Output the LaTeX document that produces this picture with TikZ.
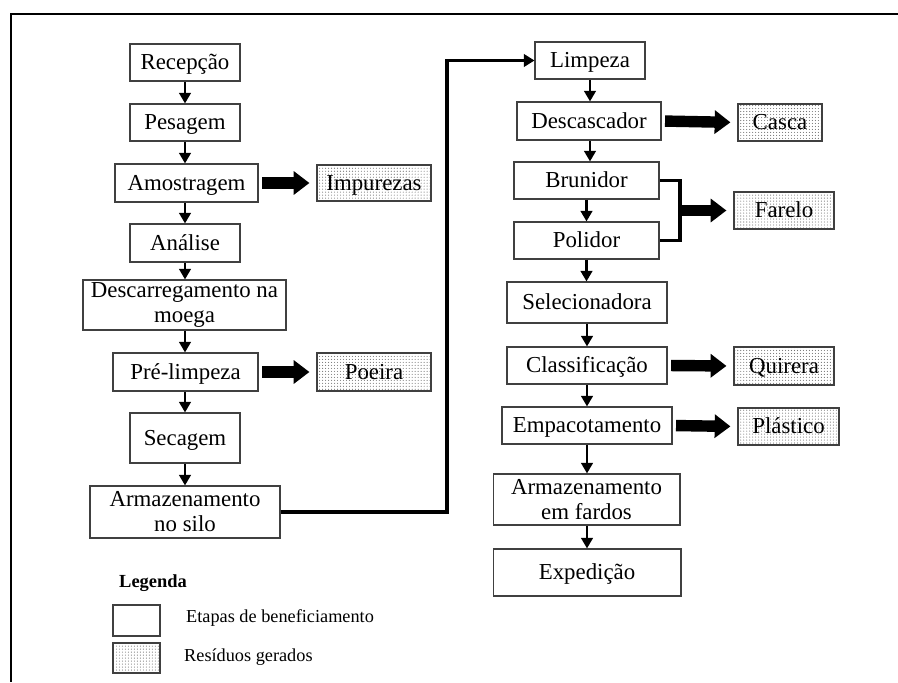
\documentclass[tikz,border=0pt]{standalone}
\usepackage{fontspec}
\setmainfont{Liberation Serif}
\usetikzlibrary{arrows.meta,patterns.meta}

\begin{document}
\begin{tikzpicture}[x=0.02cm, y=-0.02cm,
    etapa/.style={draw=black!75, line width=0.6pt, fill=white, inner sep=1pt, align=center, text height=10.5pt, text depth=2pt, font=\fontsize{13}{14.2}\selectfont},
    etapadupla/.style={etapa, text height=, text depth=},
    residuo/.style={draw=black!75, line width=0.6pt, pattern={Dots[distance=1.7pt, radius=0.32pt]}, pattern color=black!55, inner sep=1pt, text height=10.5pt, text depth=2pt, font=\fontsize{13}{14.2}\selectfont},
    seta/.style={line width=1.5pt, -{Triangle[width=6.5pt, length=6pt]}},
    setagrossa/.style={line width=6.5pt, -{Triangle[width=13pt, length=9pt]}, shorten <=2pt, shorten >=4pt},
    ligacao/.style={line width=1.8pt},
]
    \useasboundingbox (0, 0) rectangle (898, 682);
    \draw[line width=1.2pt] (898, 14) -- (11, 14) -- (11, 682);

    % coluna da esquerda
    \node[etapa, minimum width=2.2cm, minimum height=0.74cm] (rec) at (185, 62.5) {Recepção};
    \node[etapa, minimum width=2.2cm, minimum height=0.74cm] (pes) at (185, 122.5) {Pesagem};
    \node[etapa, minimum width=2.86cm, minimum height=0.76cm] (amo) at (186.5, 183) {Amostragem};
    \node[residuo, minimum width=2.28cm, minimum height=0.72cm] (imp) at (374, 183) {Impurezas};
    \node[etapa, minimum width=2.2cm, minimum height=0.76cm] (ana) at (185, 243) {Análise};
    \node[etapadupla, minimum width=4.06cm, minimum height=1.0cm] (dsc) at (184.5, 305) {Descarregamento na\\moega};
    \node[etapa, minimum width=2.9cm, minimum height=0.76cm] (pre) at (185.5, 372) {Pré-limpeza};
    \node[residuo, minimum width=2.28cm, minimum height=0.76cm] (poe) at (374, 372) {Poeira};
    \node[etapa, minimum width=2.2cm, minimum height=1.0cm] (sec) at (185, 438) {Secagem};
    \node[etapadupla, minimum width=3.8cm, minimum height=1.04cm] (silo) at (185, 512) {Armazenamento\\no silo};

    % coluna da direita
    \node[etapa, minimum width=2.2cm, minimum height=0.74cm] (lim) at (590, 60.5) {Limpeza};
    \node[etapa, minimum width=2.88cm, minimum height=0.76cm] (dca) at (589, 121) {Descascador};
    \node[residuo, minimum width=1.68cm, minimum height=0.74cm] (cas) at (780, 122.5) {Casca};
    \node[etapa, minimum width=2.9cm, minimum height=0.74cm] (bru) at (586.5, 180.5) {Brunidor};
    \node[etapa, minimum width=2.9cm, minimum height=0.74cm] (pol) at (586.5, 240.5) {Polidor};
    \node[residuo, minimum width=2.0cm, minimum height=0.74cm] (far) at (784, 210.5) {Farelo};
    \node[etapa, minimum width=3.2cm, minimum height=0.82cm] (sel) at (587, 302.5) {Selecionadora};
    \node[etapa, minimum width=3.2cm, minimum height=0.74cm] (cla) at (587, 365.5) {Classificação};
    \node[residuo, minimum width=2.0cm, minimum height=0.76cm] (qui) at (784, 366) {Quirera};
    \node[etapa, minimum width=3.4cm, minimum height=0.74cm] (emp) at (587, 425.5) {Empacotamento};
    \node[residuo, minimum width=2.02cm, minimum height=0.74cm] (pla) at (788.5, 426.5) {Plástico};
    \node[etapadupla, minimum width=3.74cm, minimum height=1.02cm] (fard) at (586.5, 499.5) {Armazenamento\\em fardos};
    \node[etapa, minimum width=3.76cm, minimum height=0.94cm] (exp) at (587, 572.5) {Expedição};

    % setas entre etapas
    \draw[seta] (rec.south) -- (rec.south |- pes.north);
    \draw[seta] (pes.south) -- (pes.south |- amo.north);
    \draw[seta] (pes.south |- amo.south) -- (pes.south |- ana.north);
    \draw[seta] (ana.south) -- (ana.south |- dsc.north);
    \draw[seta] (ana.south |- dsc.south) -- (ana.south |- pre.north);
    \draw[seta] (ana.south |- pre.south) -- (ana.south |- sec.north);
    \draw[seta] (sec.south) -- (sec.south |- silo.north);

    \draw[seta] (lim.south) -- (lim.south |- dca.north);
    \draw[seta] (lim.south |- dca.south) -- (lim.south |- bru.north);
    \draw[seta] (bru.south) -- (bru.south |- pol.north);
    \draw[seta] (pol.south) -- (pol.south |- sel.north);
    \draw[seta] (sel.south) -- (sel.south |- cla.north);
    \draw[seta] (cla.south) -- (cla.south |- emp.north);
    \draw[seta] (emp.south) -- (emp.south |- fard.north);
    \draw[seta] (emp.south |- fard.south) -- (emp.south |- exp.north);

    % residuos
    \draw[setagrossa] (amo.east) -- (imp.west);
    \draw[setagrossa] (pre.east) -- (poe.west);
    \draw[setagrossa] (dca.east) -- (cas.west);
    \draw[setagrossa] (cla.east) -- (qui.west);
    \draw[setagrossa] (emp.east) -- (pla.west);
    \coordinate (brk) at (680, 210.5);
    \draw[ligacao, line width=2pt] (bru.east) -| (brk) |- (pol.east);
    \draw[setagrossa, shorten <=0pt] (brk) -- (far.west);

    % silo -> limpeza
    \coordinate (volta) at (447, 512);
    \draw[ligacao, -{Triangle[width=7pt, length=6pt]}] (silo.east) -- (volta) |- (lim.west);

    % legenda
    \node[anchor=west, font=\fontsize{10.5}{12}\selectfont\bfseries] (leg) at (113, 583) {Legenda};
    \node[etapa, minimum width=0.94cm, minimum height=0.62cm] (legA) at (136.5, 620.5) {};
    \node[residuo, minimum width=0.94cm, minimum height=0.6cm] (legB) at (136.5, 658) {};
    \node[anchor=west, font=\fontsize{10.4}{12}\selectfont] (legAt) at (180, 618) {Etapas de beneficiamento};
    \node[anchor=west, font=\fontsize{10.4}{12}\selectfont] (legBt) at (178, 657) {Resíduos gerados};
\end{tikzpicture}
\end{document}
